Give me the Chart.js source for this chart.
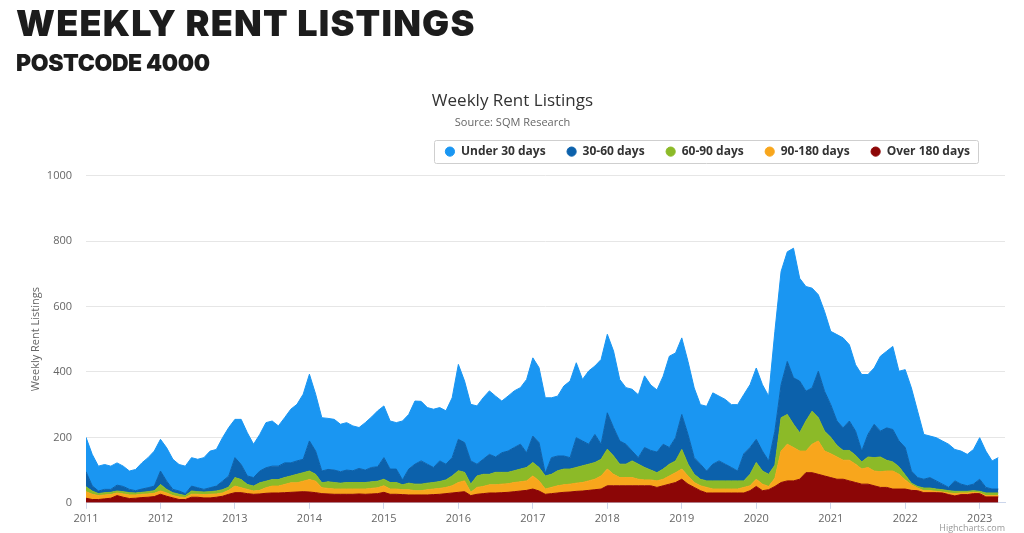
<!DOCTYPE html>
<html>
<head>
<meta charset="utf-8">
<script src="https://cdn.jsdelivr.net/npm/chart.js@4.4.1/dist/chart.umd.min.js"></script>
<style>
  body { margin: 0; background: #fff; }
  #wrap { position: relative; width: 1024px; height: 533px; overflow: hidden; }
  #wrap canvas { position: absolute; left: 0; top: 0; }
  .head { position: absolute; left: 16px; margin: 0; color: #1c1c1c; font-family: Inter, "Open Sans", sans-serif; font-weight: 900; white-space: nowrap; line-height: 1; }
  #h1 { top: 5px; font-size: 36px; letter-spacing: 1.2px; }
  #h2 { top: 52px; font-size: 23px; letter-spacing: -0.4px; }
  #credit { position: absolute; right: 19px; top: 521px; font: 9px "Open Sans", sans-serif; color: #999; }
</style>
</head>
<body>
<div id="wrap">
  <canvas id="chart" width="1024" height="533"></canvas>
  <div class="head" id="h1">WEEKLY RENT LISTINGS</div>
  <div class="head" id="h2">POSTCODE 4000</div>
  <div id="credit">Highcharts.com</div>
</div>
<script>
// monthly readings, Jan 2011 .. Apr 2023 (one row per year)
var over180 = [
  14,10,10,12,14,22,17,13,14,16,17,19,
  26,20,15,10,10,17,17,15,15,17,20,26,
  31,31,28,26,27,29,30,30,31,32,33,34,
  33,31,28,27,26,26,26,26,27,26,27,28,
  32,26,26,25,24,24,24,24,25,26,28,30,
  32,34,22,26,28,30,30,31,32,34,36,38,
  42,36,26,28,30,32,33,35,36,38,40,42,
  52,52,52,52,52,52,52,52,47,52,57,62,
  72,57,47,37,30,30,30,30,30,30,30,37,
  50,37,40,50,62,67,67,72,92,92,87,82,
  77,72,72,67,62,57,57,52,47,47,42,42,
  42,38,37,31,31,31,30,25,21,25,25,28,
  28,18,18,18
]
var d90to180 = [
  20,16,12,12,11,8,10,11,10,10,10,10,
  10,10,7,8,6,9,9,10,11,10,10,12,
  20,15,13,10,11,17,21,21,25,29,28,32,
  38,35,18,17,16,16,16,16,15,16,17,18,
  20,16,16,15,16,13,13,16,17,18,19,22,
  30,33,10,21,22,25,25,26,26,28,28,29,
  40,31,16,19,22,23,24,25,26,29,32,40,
  51,35,25,25,25,20,18,18,20,20,25,30,
  31,25,15,15,17,12,12,12,12,12,17,15,
  22,20,10,25,96,112,102,86,66,87,102,76,
  73,68,58,63,56,46,51,45,48,50,55,45,
  28,17,8,6,6,4,3,5,7,5,5,4,
  2,4,4,4
]
var d60to90 = [
  15,10,6,7,7,6,7,7,6,6,7,8,
  20,11,9,8,6,10,8,8,8,9,10,10,
  26,25,15,15,23,20,20,20,21,21,26,26,
  26,21,15,20,20,18,20,20,20,20,20,20,
  20,20,20,15,20,20,20,20,20,21,23,30,
  36,26,25,35,37,32,38,36,35,36,39,41,
  41,41,40,40,46,48,46,48,51,51,51,51,
  61,56,41,41,51,46,38,30,25,31,36,36,
  60,36,25,20,20,25,25,25,25,25,20,35,
  51,40,37,40,102,91,71,56,92,101,71,61,
  50,35,30,30,27,22,32,41,45,33,28,23,
  15,5,5,8,8,7,7,7,7,5,5,5,
  5,8,8,8
]
var d30to60 = [
  46,16,8,10,9,18,16,10,7,10,12,14,
  41,25,10,10,6,15,12,8,12,15,26,34,
  61,46,26,26,36,41,41,41,45,40,41,41,
  92,71,36,38,38,35,38,36,43,38,44,44,
  66,41,41,15,43,61,71,58,46,63,48,56,
  96,91,71,36,46,61,47,60,65,71,76,45,
  81,76,8,51,45,40,35,91,76,61,86,46,
  111,87,71,61,30,20,61,60,63,76,51,71,
  107,91,51,46,30,51,61,51,41,30,83,82,
  71,61,41,104,101,162,142,158,91,71,142,122,
  100,75,69,90,74,33,69,102,79,99,99,79,
  84,37,27,27,32,25,17,10,32,22,17,20,
  37,17,12,12
]
var under30 = [
  105,96,76,76,71,68,62,56,65,80,92,107,
  97,102,92,81,84,87,87,97,112,112,133,148,
  117,138,132,102,112,138,138,123,138,164,173,199,
  204,174,163,156,155,145,145,137,125,145,154,171,
  158,147,142,180,167,193,182,173,178,163,163,183,
  229,188,173,178,188,194,186,158,168,173,173,224,
  239,229,231,183,183,214,234,229,188,224,209,259,
  240,234,188,173,189,192,219,200,190,208,279,259,
  234,223,213,182,198,218,198,198,192,203,181,192,
  218,203,198,305,346,335,396,314,320,305,234,244,
  224,264,275,233,203,234,183,172,229,234,254,213,
  238,254,203,137,127,132,132,132,96,101,96,106,
  127,111,86,96
]

var startYear = 2011
var xTicks = [2011,2012,2013,2014,2015,2016,2017,2018,2019,2020,2021,2022,2023]

function toPoints(values) {
    var pts = []
    for (let i = 0; i < values.length; i++) {
        pts.push({x: startYear + i / 12, y: values[i]})
    }
    return pts
}

function area(label, values, color, fill) {
    return {
        label: label,
        data: toPoints(values),
        backgroundColor: color,
        borderColor: color,
        borderWidth: 1,
        pointRadius: 0,
        tension: 0,
        fill: fill
    }
}

// legend sits a bit left of the right edge, with extra room below it
var legendTweak = {
    id: 'legendTweak',
    beforeInit(chart) {
        var legend = chart.legend
        var fit = legend.fit
        legend.fit = function () {
            fit.call(this)
            this.height += 8
            this.lineWidths[0] += 14
        }
    }
}

// draws the grey frame around the legend items
var legendFrame = {
    id: 'legendFrame',
    afterDraw(chart) {
        var boxes = chart.legend.legendHitBoxes
        if (!boxes || !boxes.length) return
        var l = Math.min(...boxes.map(b => b.left))
        var r = Math.max(...boxes.map(b => b.left + b.width))
        var t = boxes[0].top
        var h = boxes[0].height
        var c = chart.ctx
        c.save()
        c.strokeStyle = '#cfcfcf'
        c.lineWidth = 1
        c.beginPath()
        c.roundRect(Math.round(l - 11) + 0.5, Math.round(t - 6) + 0.5, Math.round(r - l + 19), Math.round(h + 11), 2)
        c.stroke()
        c.restore()
    }
}

var ctx = document.getElementById('chart').getContext('2d')
var chart = new Chart(ctx, {
    type: 'line',
    data: {
        datasets: [
            area('Over 180 days', over180, '#8c0606', 'origin'),
            area('90-180 days', d90to180, '#f8a61c', '-1'),
            area('60-90 days', d60to90, '#8cba28', '-1'),
            area('30-60 days', d30to60, '#0c61ab', '-1'),
            area('Under 30 days', under30, '#1a96f2', '-1')
        ]
    },
    options: {
        responsive: false,
        animation: false,
        layout: {padding: {top: 91, right: 19, left: 20, bottom: 5}},
        plugins: {
            title: {
                display: true,
                text: 'Weekly Rent Listings',
                color: '#333',
                font: {family: 'Open Sans', size: 17, weight: 'normal'},
                padding: {top: 0, bottom: 4}
            },
            subtitle: {
                display: true,
                text: 'Source: SQM Research',
                color: '#666',
                font: {family: 'Open Sans', size: 11},
                padding: {top: 1, bottom: -5}
            },
            legend: {
                reverse: true,
                align: 'end',
                labels: {
                    usePointStyle: true,
                    pointStyle: 'circle',
                    boxWidth: 10,
                    boxHeight: 6.5,
                    color: '#333',
                    font: {family: 'Open Sans', size: 12, weight: 'bold'},
                    padding: 21
                }
            },
            tooltip: {enabled: false}
        },
        scales: {
            x: {
                type: 'linear',
                min: 2011,
                max: 2023.34,
                afterBuildTicks: axis => { axis.ticks = xTicks.map(v => ({value: v})) },
                ticks: {
                    color: '#666',
                    font: {family: 'Open Sans', size: 11},
                    maxRotation: 0,
                    callback: v => String(v)
                },
                grid: {display: true, drawOnChartArea: false, tickLength: 6, color: '#ccd6eb'},
                border: {color: '#ccd6eb'}
            },
            y: {
                stacked: true,
                min: 0,
                max: 1000,
                afterFit: axis => { axis.width = 66 },
                ticks: {
                    stepSize: 200,
                    color: '#666',
                    font: {family: 'Open Sans', size: 11},
                    padding: 14,
                    callback: v => String(v)
                },
                grid: {color: '#e6e6e6', drawTicks: false},
                border: {display: false},
                title: {
                    display: true,
                    text: 'Weekly Rent Listings',
                    color: '#666',
                    font: {family: 'Open Sans', size: 11},
                    padding: {top: 9, bottom: 0}
                }
            }
        }
    },
    plugins: [legendTweak, legendFrame]
})
</script>
</body>
</html>
